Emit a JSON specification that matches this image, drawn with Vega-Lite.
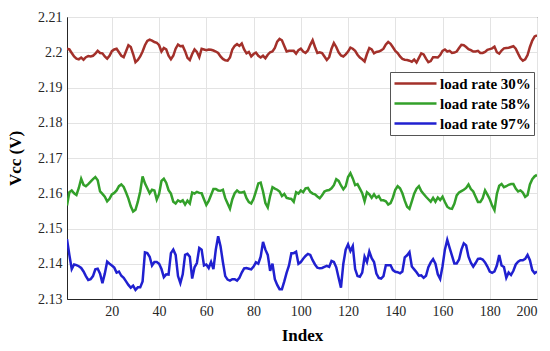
{
"$schema": "https://vega.github.io/schema/vega-lite/v6.json",
"width": 470, "height": 282,
"autosize": "none",
"padding": {"left": 67, "top": 17, "right": 13, "bottom": 52},
"background": "white",
"data": {"values": [
{"i":1,"r30":2.2010,"r58":2.1565,"r97":2.1470},
{"i":2,"r30":2.2008,"r58":2.1603,"r97":2.1425},
{"i":3,"r30":2.1998,"r58":2.1608,"r97":2.1385},
{"i":4,"r30":2.1988,"r58":2.1600,"r97":2.1398},
{"i":5,"r30":2.1982,"r58":2.1595,"r97":2.1396},
{"i":6,"r30":2.1980,"r58":2.1615,"r97":2.1393},
{"i":7,"r30":2.1985,"r58":2.1641,"r97":2.1388},
{"i":8,"r30":2.1979,"r58":2.1624,"r97":2.1378},
{"i":9,"r30":2.1986,"r58":2.1620,"r97":2.1365},
{"i":10,"r30":2.1989,"r58":2.1626,"r97":2.1354},
{"i":11,"r30":2.1988,"r58":2.1633,"r97":2.1356},
{"i":12,"r30":2.1990,"r58":2.1640,"r97":2.1365},
{"i":13,"r30":2.1996,"r58":2.1646,"r97":2.1384},
{"i":14,"r30":2.2004,"r58":2.1637,"r97":2.1386},
{"i":15,"r30":2.1998,"r58":2.1605,"r97":2.1372},
{"i":16,"r30":2.1997,"r58":2.1598,"r97":2.1345},
{"i":17,"r30":2.1988,"r58":2.1590,"r97":2.1372},
{"i":18,"r30":2.1982,"r58":2.1577,"r97":2.1406},
{"i":19,"r30":2.1990,"r58":2.1584,"r97":2.1400},
{"i":20,"r30":2.2003,"r58":2.1597,"r97":2.1395},
{"i":21,"r30":2.2008,"r58":2.1601,"r97":2.1389},
{"i":22,"r30":2.2010,"r58":2.1608,"r97":2.1375},
{"i":23,"r30":2.2000,"r58":2.1620,"r97":2.1378},
{"i":24,"r30":2.1990,"r58":2.1625,"r97":2.1366},
{"i":25,"r30":2.1986,"r58":2.1618,"r97":2.1360},
{"i":26,"r30":2.2003,"r58":2.1602,"r97":2.1350},
{"i":27,"r30":2.2020,"r58":2.1585,"r97":2.1340},
{"i":28,"r30":2.2015,"r58":2.1563,"r97":2.1332},
{"i":29,"r30":2.1995,"r58":2.1548,"r97":2.1338},
{"i":30,"r30":2.1972,"r58":2.1553,"r97":2.1326},
{"i":31,"r30":2.1978,"r58":2.1576,"r97":2.1333},
{"i":32,"r30":2.1988,"r58":2.1605,"r97":2.1333},
{"i":33,"r30":2.2002,"r58":2.1648,"r97":2.1350},
{"i":34,"r30":2.2020,"r58":2.1628,"r97":2.1432},
{"i":35,"r30":2.2032,"r58":2.1614,"r97":2.1430},
{"i":36,"r30":2.2036,"r58":2.1600,"r97":2.1420},
{"i":37,"r30":2.2033,"r58":2.1610,"r97":2.1395},
{"i":38,"r30":2.2029,"r58":2.1608,"r97":2.1405},
{"i":39,"r30":2.2027,"r58":2.1582,"r97":2.1405},
{"i":40,"r30":2.2020,"r58":2.1598,"r97":2.1400},
{"i":41,"r30":2.2002,"r58":2.1635,"r97":2.1385},
{"i":42,"r30":2.2012,"r58":2.1641,"r97":2.1362},
{"i":43,"r30":2.2008,"r58":2.1630,"r97":2.1370},
{"i":44,"r30":2.1990,"r58":2.1609,"r97":2.1369},
{"i":45,"r30":2.1980,"r58":2.1599,"r97":2.1430},
{"i":46,"r30":2.1990,"r58":2.1576,"r97":2.1440},
{"i":47,"r30":2.2010,"r58":2.1571,"r97":2.1425},
{"i":48,"r30":2.2022,"r58":2.1580,"r97":2.1365},
{"i":49,"r30":2.2017,"r58":2.1576,"r97":2.1345},
{"i":50,"r30":2.2018,"r58":2.1580,"r97":2.1370},
{"i":51,"r30":2.2003,"r58":2.1568,"r97":2.1425},
{"i":52,"r30":2.1984,"r58":2.1579,"r97":2.1428},
{"i":53,"r30":2.1978,"r58":2.1571,"r97":2.1420},
{"i":54,"r30":2.1995,"r58":2.1602,"r97":2.1358},
{"i":55,"r30":2.2008,"r58":2.1599,"r97":2.1390},
{"i":56,"r30":2.2001,"r58":2.1604,"r97":2.1402},
{"i":57,"r30":2.1986,"r58":2.1601,"r97":2.1445},
{"i":58,"r30":2.2010,"r58":2.1600,"r97":2.1440},
{"i":59,"r30":2.2008,"r58":2.1583,"r97":2.1395},
{"i":60,"r30":2.2006,"r58":2.1567,"r97":2.1398},
{"i":61,"r30":2.2008,"r58":2.1578,"r97":2.1388},
{"i":62,"r30":2.2007,"r58":2.1595,"r97":2.1405},
{"i":63,"r30":2.2005,"r58":2.1612,"r97":2.1385},
{"i":64,"r30":2.2002,"r58":2.1612,"r97":2.1440},
{"i":65,"r30":2.1998,"r58":2.1608,"r97":2.1478},
{"i":66,"r30":2.1988,"r58":2.1607,"r97":2.1450},
{"i":67,"r30":2.1981,"r58":2.1610,"r97":2.1405},
{"i":68,"r30":2.1977,"r58":2.1586,"r97":2.1365},
{"i":69,"r30":2.1976,"r58":2.1571,"r97":2.1355},
{"i":70,"r30":2.1985,"r58":2.1556,"r97":2.1352},
{"i":71,"r30":2.2008,"r58":2.1583,"r97":2.1356},
{"i":72,"r30":2.2018,"r58":2.1600,"r97":2.1356},
{"i":73,"r30":2.2023,"r58":2.1608,"r97":2.1352},
{"i":74,"r30":2.2018,"r58":2.1602,"r97":2.1360},
{"i":75,"r30":2.2025,"r58":2.1602,"r97":2.1375},
{"i":76,"r30":2.2008,"r58":2.1604,"r97":2.1387},
{"i":77,"r30":2.1997,"r58":2.1586,"r97":2.1388},
{"i":78,"r30":2.2001,"r58":2.1575,"r97":2.1386},
{"i":79,"r30":2.1988,"r58":2.1571,"r97":2.1384},
{"i":80,"r30":2.1995,"r58":2.1584,"r97":2.1392},
{"i":81,"r30":2.1999,"r58":2.1605,"r97":2.1404},
{"i":82,"r30":2.1990,"r58":2.1628,"r97":2.1400},
{"i":83,"r30":2.1985,"r58":2.1630,"r97":2.1420},
{"i":84,"r30":2.1990,"r58":2.1605,"r97":2.1462},
{"i":85,"r30":2.1983,"r58":2.1572,"r97":2.1440},
{"i":86,"r30":2.1993,"r58":2.1560,"r97":2.1425},
{"i":87,"r30":2.2000,"r58":2.1592,"r97":2.1380},
{"i":88,"r30":2.2002,"r58":2.1617,"r97":2.1400},
{"i":89,"r30":2.2012,"r58":2.1613,"r97":2.1356},
{"i":90,"r30":2.2030,"r58":2.1610,"r97":2.1340},
{"i":91,"r30":2.2038,"r58":2.1605,"r97":2.1328},
{"i":92,"r30":2.2034,"r58":2.1592,"r97":2.1328},
{"i":93,"r30":2.2018,"r58":2.1598,"r97":2.1350},
{"i":94,"r30":2.2002,"r58":2.1587,"r97":2.1375},
{"i":95,"r30":2.2004,"r58":2.1585,"r97":2.1395},
{"i":96,"r30":2.2004,"r58":2.1584,"r97":2.1430},
{"i":97,"r30":2.2004,"r58":2.1576,"r97":2.1430},
{"i":98,"r30":2.1996,"r58":2.1603,"r97":2.1434},
{"i":99,"r30":2.2006,"r58":2.1599,"r97":2.1400},
{"i":100,"r30":2.2010,"r58":2.1608,"r97":2.1405},
{"i":101,"r30":2.2002,"r58":2.1603,"r97":2.1414},
{"i":102,"r30":2.1998,"r58":2.1614,"r97":2.1422},
{"i":103,"r30":2.2005,"r58":2.1615,"r97":2.1428},
{"i":104,"r30":2.2021,"r58":2.1604,"r97":2.1425},
{"i":105,"r30":2.2034,"r58":2.1599,"r97":2.1410},
{"i":106,"r30":2.2015,"r58":2.1597,"r97":2.1398},
{"i":107,"r30":2.1998,"r58":2.1591,"r97":2.1389},
{"i":108,"r30":2.2000,"r58":2.1586,"r97":2.1387},
{"i":109,"r30":2.1998,"r58":2.1594,"r97":2.1388},
{"i":110,"r30":2.1988,"r58":2.1605,"r97":2.1391},
{"i":111,"r30":2.1978,"r58":2.1608,"r97":2.1394},
{"i":112,"r30":2.1986,"r58":2.1609,"r97":2.1391},
{"i":113,"r30":2.2010,"r58":2.1614,"r97":2.1408},
{"i":114,"r30":2.2026,"r58":2.1623,"r97":2.1405},
{"i":115,"r30":2.2015,"r58":2.1640,"r97":2.1390},
{"i":116,"r30":2.2000,"r58":2.1635,"r97":2.1360},
{"i":117,"r30":2.1991,"r58":2.1622,"r97":2.1332},
{"i":118,"r30":2.1988,"r58":2.1611,"r97":2.1400},
{"i":119,"r30":2.1994,"r58":2.1620,"r97":2.1440},
{"i":120,"r30":2.2002,"r58":2.1646,"r97":2.1455},
{"i":121,"r30":2.2013,"r58":2.1657,"r97":2.1436},
{"i":122,"r30":2.2010,"r58":2.1642,"r97":2.1450},
{"i":123,"r30":2.2004,"r58":2.1623,"r97":2.1385},
{"i":124,"r30":2.1993,"r58":2.1626,"r97":2.1365},
{"i":125,"r30":2.1985,"r58":2.1613,"r97":2.1363},
{"i":126,"r30":2.1980,"r58":2.1600,"r97":2.1375},
{"i":127,"r30":2.1974,"r58":2.1577,"r97":2.1420},
{"i":128,"r30":2.1995,"r58":2.1603,"r97":2.1405},
{"i":129,"r30":2.2012,"r58":2.1597,"r97":2.1435},
{"i":130,"r30":2.2008,"r58":2.1587,"r97":2.1416},
{"i":131,"r30":2.1997,"r58":2.1597,"r97":2.1405},
{"i":132,"r30":2.2001,"r58":2.1587,"r97":2.1372},
{"i":133,"r30":2.2002,"r58":2.1592,"r97":2.1360},
{"i":134,"r30":2.2005,"r58":2.1580,"r97":2.1358},
{"i":135,"r30":2.2010,"r58":2.1580,"r97":2.1365},
{"i":136,"r30":2.2022,"r58":2.1577,"r97":2.1396},
{"i":137,"r30":2.2029,"r58":2.1568,"r97":2.1396},
{"i":138,"r30":2.2024,"r58":2.1572,"r97":2.1396},
{"i":139,"r30":2.2014,"r58":2.1588,"r97":2.1382},
{"i":140,"r30":2.2004,"r58":2.1610,"r97":2.1377},
{"i":141,"r30":2.1998,"r58":2.1620,"r97":2.1376},
{"i":142,"r30":2.1988,"r58":2.1614,"r97":2.1373},
{"i":143,"r30":2.1981,"r58":2.1600,"r97":2.1378},
{"i":144,"r30":2.1979,"r58":2.1579,"r97":2.1418},
{"i":145,"r30":2.1978,"r58":2.1562,"r97":2.1424},
{"i":146,"r30":2.1976,"r58":2.1556,"r97":2.1433},
{"i":147,"r30":2.1973,"r58":2.1577,"r97":2.1392},
{"i":148,"r30":2.1979,"r58":2.1599,"r97":2.1384},
{"i":149,"r30":2.1971,"r58":2.1613,"r97":2.1376},
{"i":150,"r30":2.1984,"r58":2.1620,"r97":2.1366},
{"i":151,"r30":2.1997,"r58":2.1606,"r97":2.1367},
{"i":152,"r30":2.1994,"r58":2.1598,"r97":2.1360},
{"i":153,"r30":2.1982,"r58":2.1590,"r97":2.1366},
{"i":154,"r30":2.1972,"r58":2.1583,"r97":2.1390},
{"i":155,"r30":2.1975,"r58":2.1576,"r97":2.1404},
{"i":156,"r30":2.1986,"r58":2.1587,"r97":2.1413},
{"i":157,"r30":2.1986,"r58":2.1576,"r97":2.1400},
{"i":158,"r30":2.1985,"r58":2.1588,"r97":2.1370},
{"i":159,"r30":2.1992,"r58":2.1581,"r97":2.1357},
{"i":160,"r30":2.2004,"r58":2.1590,"r97":2.1393},
{"i":161,"r30":2.2008,"r58":2.1575,"r97":2.1440},
{"i":162,"r30":2.2002,"r58":2.1562,"r97":2.1468},
{"i":163,"r30":2.2004,"r58":2.1557,"r97":2.1445},
{"i":164,"r30":2.1998,"r58":2.1556,"r97":2.1423},
{"i":165,"r30":2.1999,"r58":2.1570,"r97":2.1401},
{"i":166,"r30":2.2002,"r58":2.1594,"r97":2.1401},
{"i":167,"r30":2.2012,"r58":2.1602,"r97":2.1412},
{"i":168,"r30":2.2021,"r58":2.1606,"r97":2.1440},
{"i":169,"r30":2.2020,"r58":2.1610,"r97":2.1458},
{"i":170,"r30":2.2015,"r58":2.1615,"r97":2.1452},
{"i":171,"r30":2.2009,"r58":2.1625,"r97":2.1420},
{"i":172,"r30":2.2006,"r58":2.1612,"r97":2.1403},
{"i":173,"r30":2.2002,"r58":2.1605,"r97":2.1392},
{"i":174,"r30":2.2002,"r58":2.1590,"r97":2.1402},
{"i":175,"r30":2.2004,"r58":2.1575,"r97":2.1414},
{"i":176,"r30":2.1998,"r58":2.1575,"r97":2.1415},
{"i":177,"r30":2.1998,"r58":2.1586,"r97":2.1412},
{"i":178,"r30":2.2001,"r58":2.1608,"r97":2.1404},
{"i":179,"r30":2.2007,"r58":2.1596,"r97":2.1392},
{"i":180,"r30":2.2009,"r58":2.1583,"r97":2.1378},
{"i":181,"r30":2.2011,"r58":2.1565,"r97":2.1374},
{"i":182,"r30":2.2016,"r58":2.1552,"r97":2.1378},
{"i":183,"r30":2.2000,"r58":2.1598,"r97":2.1395},
{"i":184,"r30":2.1996,"r58":2.1621,"r97":2.1425},
{"i":185,"r30":2.2005,"r58":2.1626,"r97":2.1395},
{"i":186,"r30":2.2011,"r58":2.1617,"r97":2.1391},
{"i":187,"r30":2.2012,"r58":2.1620,"r97":2.1360},
{"i":188,"r30":2.2013,"r58":2.1624,"r97":2.1375},
{"i":189,"r30":2.2015,"r58":2.1626,"r97":2.1368},
{"i":190,"r30":2.2017,"r58":2.1626,"r97":2.1380},
{"i":191,"r30":2.2010,"r58":2.1613,"r97":2.1398},
{"i":192,"r30":2.1996,"r58":2.1605,"r97":2.1406},
{"i":193,"r30":2.1983,"r58":2.1608,"r97":2.1410},
{"i":194,"r30":2.1976,"r58":2.1602,"r97":2.1410},
{"i":195,"r30":2.1980,"r58":2.1590,"r97":2.1414},
{"i":196,"r30":2.1992,"r58":2.1595,"r97":2.1425},
{"i":197,"r30":2.2015,"r58":2.1625,"r97":2.1410},
{"i":198,"r30":2.2033,"r58":2.1640,"r97":2.1382},
{"i":199,"r30":2.2045,"r58":2.1648,"r97":2.1373},
{"i":200,"r30":2.2048,"r58":2.1652,"r97":2.1378}
]},
"transform": [{"fold": ["r30", "r58", "r97"], "as": ["series", "v"]}],
"mark": {"type": "line", "strokeWidth": 2.5, "clip": true},
"encoding": {
  "x": {"field": "i", "type": "quantitative",
        "scale": {"domain": [1, 200], "nice": false},
        "axis": {"values": [20, 40, 60, 80, 100, 120, 140, 160, 180, 200], "title": "Index", "titlePadding": 9,
                 "labelFont": "Liberation Serif", "labelFontSize": 14, "labelPadding": 5}},
  "y": {"field": "v", "type": "quantitative",
        "scale": {"domain": [2.13, 2.21], "nice": false, "zero": false},
        "axis": {"values": [2.13, 2.14, 2.15, 2.16, 2.17, 2.18, 2.19, 2.2, 2.21], "format": ".3~g", "title": "Vcc (V)", "titlePadding": 13,
                 "labelFont": "Liberation Serif", "labelFontSize": 14, "labelPadding": 5}},
  "color": {"field": "series", "type": "nominal",
        "scale": {"domain": ["r30", "r58", "r97"], "range": ["#a3302a", "#33a02a", "#2020d0"]},
        "legend": {"title": null, "orient": "none", "legendX": 323, "legendY": 55,
                   "labelExpr": "{'r30':'load rate 30%','r58':'load rate 58%','r97':'load rate 97%'}[datum.label]",
                   "symbolType": "M-3,0H3", "symbolSize": 196, "symbolOffset": 14, "symbolStrokeWidth": 2.5,
                   "labelOffset": 16, "padding": 3, "rowPadding": 3,
                   "strokeColor": "#555555", "fillColor": "white",
                   "labelFont": "Liberation Serif", "labelFontWeight": "bold", "labelFontSize": 15, "labelColor": "black"}}
},
"config": {
  "view": {"stroke": "#262626", "strokeWidth": 1},
  "axis": {"domainColor": "#262626", "gridColor": "#e3e3e3", "gridWidth": 1, "ticks": false,
           "labelColor": "#262626",
           "titleFont": "Liberation Serif", "titleFontSize": 17, "titleFontWeight": "bold", "titleColor": "black"}
}
}
